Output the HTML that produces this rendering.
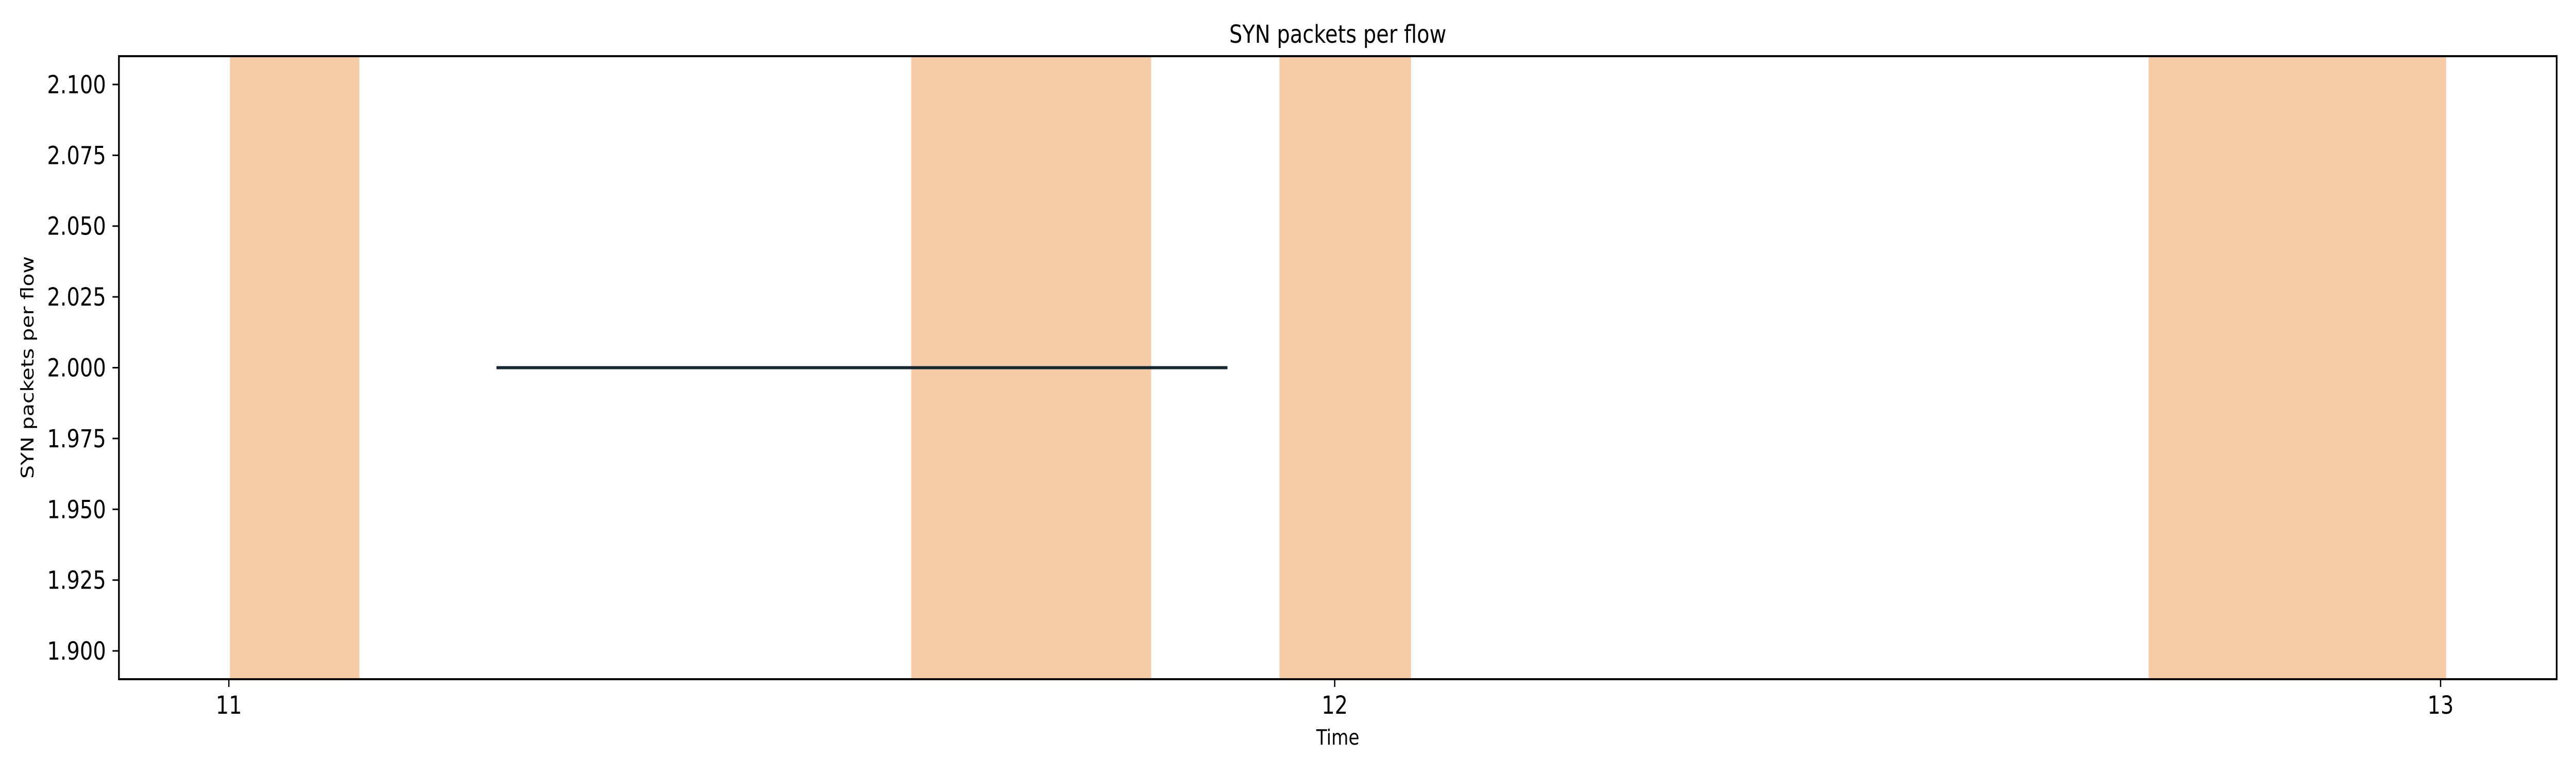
<!DOCTYPE html>
<html><head><meta charset="utf-8"><style>
html,body{margin:0;padding:0;background:#fff;width:100%;height:100%;overflow:hidden;}
svg{position:absolute;left:0;top:0;width:100vw;height:100vh;display:block;font-family:"DejaVu Sans","Liberation Sans",sans-serif;}
</style></head><body>
<svg id="chart" viewBox="0 0 6000 1500" preserveAspectRatio="none">
<g id="bands"></g>
<g id="series"></g>
<rect x="277" y="109" width="5678" height="1209" fill="none" stroke="#000" stroke-width="4"/>
<g id="yticks"></g>
<g id="xticks"></g>
<text x="3116" y="83" font-size="48" text-anchor="middle">SYN packets per flow</text>
<text x="3116" y="1445" font-size="41" text-anchor="middle">Time</text>
<text transform="translate(78,713) rotate(-90)" font-size="41" text-anchor="middle">SYN packets per flow</text>
</svg>
<script>
const bandStarts = [11.001, 11.617, 11.950, 12.736];
const bandEnds = [11.118, 11.834, 12.069, 13.005];
const lineX = [11.242, 11.903];
const lineY = [2.0, 2.0];
const xTicks = [11, 12, 13];
const xTickLabels = ["11", "12", "13"];
const yTicks = [1.9, 1.925, 1.95, 1.975, 2.0, 2.025, 2.05, 2.075, 2.1];
const yTickLabels = ["1.900","1.925","1.950","1.975","2.000","2.025","2.050","2.075","2.100"];

const L=277,R=5955,T=109,B=1318;
const xmin=10.9006,xmax=13.105,ymin=1.89,ymax=2.11;
function sx(v){return L+(v-xmin)/(xmax-xmin)*(R-L);}
function sy(v){return B-(v-ymin)/(ymax-ymin)*(B-T);}
const NS="http://www.w3.org/2000/svg";
function mk(tag,attrs,parent){const e=document.createElementNS(NS,tag);for(const k in attrs)e.setAttribute(k,attrs[k]);parent.appendChild(e);return e;}

const bands=document.getElementById('bands');
for(let i=0;i<bandStarts.length;i++){
  const r=mk('rect',{x:sx(bandStarts[i]),y:T,width:sx(bandEnds[i])-sx(bandStarts[i]),height:B-T,fill:'#f8cba7'},bands);
  
  
}
const series=document.getElementById('series');
let d='';
for(let i=0;i<lineX.length;i++){d+=(i?'L':'M')+sx(lineX[i])+' '+sy(lineY[i]);}
const p=mk('path',{d:d,stroke:'#152831',"stroke-width":6,fill:'none'},series);



const yg=document.getElementById('yticks');
for(let i=0;i<yTicks.length;i++){
  const y=sy(yTicks[i]);
  const t=mk('line',{x1:L-15,x2:L,y1:y,y2:y,stroke:'#000',"stroke-width":3},yg);
  
  
  const tx=mk('text',{x:L-30,y:y+17,"font-size":48,"text-anchor":'end'},yg);
  tx.textContent=yTickLabels[i];
  
  
}
const xg=document.getElementById('xticks');
for(let i=0;i<xTicks.length;i++){
  const x=sx(xTicks[i]);
  const t=mk('line',{x1:x,x2:x,y1:B,y2:B+15,stroke:'#000',"stroke-width":3},xg);
  
  
  const tx=mk('text',{x:x,y:1385,"font-size":48,"text-anchor":'middle'},xg);
  tx.textContent=xTickLabels[i];
  
  
}
</script>
</body></html>
